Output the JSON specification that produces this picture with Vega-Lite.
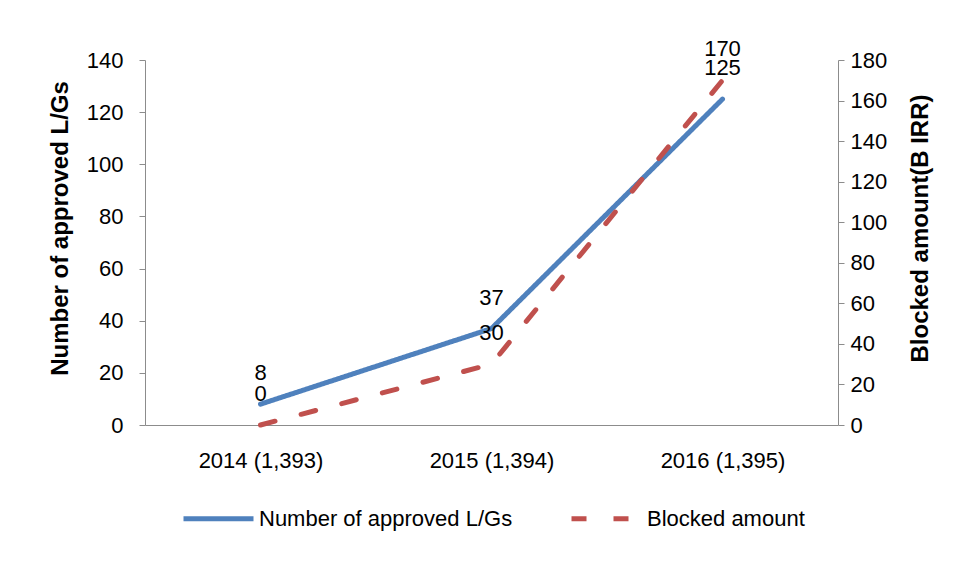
{
  "$schema": "https://vega.github.io/schema/vega-lite/v6.json",
  "width": 693,
  "height": 365,
  "autosize": "none",
  "padding": {"left": 145, "top": 60, "right": 119, "bottom": 137},
  "background": "white",
  "data": {
    "values": [
      {"year": "2014 (1,393)", "series": "Number of approved L/Gs", "value": 8},
      {"year": "2015 (1,394)", "series": "Number of approved L/Gs", "value": 37},
      {"year": "2016 (1,395)", "series": "Number of approved L/Gs", "value": 125},
      {"year": "2014 (1,393)", "series": "Blocked amount", "value": 0},
      {"year": "2015 (1,394)", "series": "Blocked amount", "value": 30},
      {"year": "2016 (1,395)", "series": "Blocked amount", "value": 170}
    ]
  },
  "config": {
    "view": {"stroke": null},
    "font": "Liberation Sans",
    "axis": {
      "grid": false,
      "domainColor": "#8c8c8c",
      "tickColor": "#8c8c8c",
      "labelFont": "Liberation Sans",
      "labelFontSize": 22,
      "labelColor": "black",
      "titleFont": "Liberation Sans",
      "titleFontSize": 24,
      "titleFontWeight": "bold",
      "titleColor": "black"
    },
    "legend": {
      "orient": "none",
      "legendX": 36,
      "legendY": 421,
      "direction": "horizontal",
      "symbolType": "stroke",
      "symbolSize": 4900,
      "symbolStrokeWidth": 5,
      "labelFont": "Liberation Sans",
      "labelFontSize": 22,
      "labelColor": "black",
      "labelOffset": 3,
      "columnPadding": 48,
      "labelLimit": 400
    }
  },
  "encoding": {
    "x": {
      "field": "year",
      "type": "ordinal",
      "sort": null,
      "scale": {"type": "point", "padding": 0.5},
      "axis": {"title": null, "ticks": false, "tickSize": 0, "labelPadding": 25, "labelAngle": 0}
    }
  },
  "layer": [
    {
      "transform": [{"filter": "datum.series === 'Number of approved L/Gs'"}],
      "encoding": {
        "y": {
          "field": "value",
          "type": "quantitative",
          "scale": {"domain": [0, 140], "nice": false},
          "axis": {
            "title": "Number of approved L/Gs",
            "values": [0, 20, 40, 60, 80, 100, 120, 140],
            "tickSize": 6,
            "labelPadding": 16,
            "titlePadding": 14,
            "titleY": 168
          }
        }
      },
      "layer": [
        {
          "mark": {"type": "line", "strokeWidth": 5, "strokeCap": "round", "strokeJoin": "round"},
          "encoding": {
            "color": {"field": "series", "type": "nominal", "sort": null,
              "scale": {"domain": ["Number of approved L/Gs", "Blocked amount"], "range": ["#4F81BD", "#C0504D"]},
              "legend": {"title": null}},
            "strokeDash": {"field": "series", "type": "nominal", "sort": null,
              "scale": {"domain": ["Number of approved L/Gs", "Blocked amount"], "range": [[1, 0], [15, 27]]},
              "legend": {"title": null}}
          }
        },
        {
          "mark": {"type": "text", "dy": -31, "fontSize": 22, "color": "black"},
          "encoding": {"text": {"field": "value", "type": "quantitative"}}
        }
      ]
    },
    {
      "transform": [{"filter": "datum.series === 'Blocked amount'"}],
      "encoding": {
        "y": {
          "field": "value",
          "type": "quantitative",
          "scale": {"domain": [0, 180], "nice": false},
          "axis": {
            "orient": "right",
            "title": "Blocked amount(B IRR)",
            "titleAngle": 270,
            "titleBaseline": "top",
            "values": [0, 20, 40, 60, 80, 100, 120, 140, 160, 180],
            "tickSize": 6,
            "labelPadding": 6,
            "titlePadding": 22,
            "titleY": 168
          }
        }
      },
      "layer": [
        {
          "mark": {"type": "line", "strokeWidth": 5, "strokeCap": "round", "strokeJoin": "round"},
          "encoding": {
            "color": {"field": "series", "type": "nominal", "sort": null, "legend": {"title": null}},
            "strokeDash": {"field": "series", "type": "nominal", "sort": null, "legend": {"title": null}}
          }
        },
        {
          "mark": {"type": "text", "dy": -31, "fontSize": 22, "color": "black"},
          "encoding": {"text": {"field": "value", "type": "quantitative"}}
        }
      ]
    }
  ],
  "resolve": {"scale": {"y": "independent"}}
}
